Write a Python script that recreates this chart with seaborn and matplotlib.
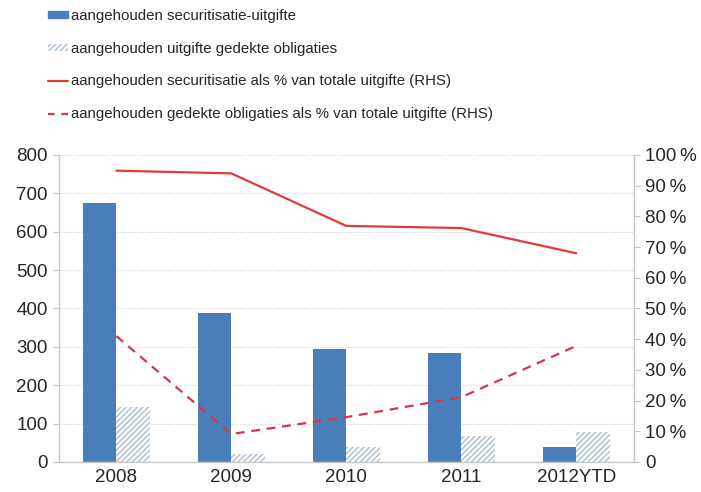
import matplotlib
matplotlib.use("Agg")
import matplotlib.pyplot as plt
import numpy as np
import pandas as pd
import seaborn as sns
from matplotlib.lines import Line2D
from matplotlib.patches import Patch
from matplotlib.ticker import FuncFormatter, MultipleLocator

# Data
years = ["2008", "2009", "2010", "2011", "2012YTD"]
securitisation = [674, 387, 294, 283, 39]
covered_bonds = [144, 21, 38, 68, 77]
sec_pct = [94.9, 94.0, 76.9, 76.2, 68.0]
cov_pct = [41.0, 9.1, 14.6, 21.1, 37.8]

labels = [
    "aangehouden securitisatie-uitgifte",
    "aangehouden uitgifte gedekte obligaties",
    "aangehouden securitisatie als % van totale uitgifte (RHS)",
    "aangehouden gedekte obligaties als % van totale uitgifte (RHS)",
]

BLUE = "#4a7ebb"
HATCH = "#a9bccf"
RED = "#e23a35"
RED_DASH = "#d8344f"
GRAY = "#c8c8c8"
TICK_SIZE = 13.5

sns.set_style("white")
plt.rcParams["font.family"] = ["Liberation Sans", "DejaVu Sans"]
plt.rcParams["hatch.linewidth"] = 1.0

df = pd.DataFrame({
    "year": years * 2,
    "value": securitisation + covered_bonds,
    "series": [labels[0]] * len(years) + [labels[1]] * len(years),
})

fig = plt.figure(figsize=(7.01, 4.92), dpi=100)
ax = fig.add_axes([0.084, 0.061, 0.82, 0.624])

sns.barplot(data=df, x="year", y="value", hue="series", order=years,
            hue_order=labels[:2], palette=[BLUE, "white"], width=0.58,
            gap=0, saturation=1, ax=ax, legend=False)

for i, bar in enumerate(ax.patches):
    bar.set_linewidth(0)
    if i >= len(years):
        bar.set_hatch("//////")
        bar.set_edgecolor(HATCH)

ax.set_xlim(-0.5, 4.5)
ax.set_ylim(0, 800)
ax.yaxis.set_major_locator(MultipleLocator(100))
ax.grid(axis="y", linestyle=(0, (1, 1.5)), color="#cfcfcf", linewidth=0.8)
ax.set_axisbelow(True)
ax.set_xlabel("")
ax.set_ylabel("")
ax.set_xticks(np.arange(len(years)))
ax.set_xticklabels(years)
ax.set_xticks(np.arange(len(years) + 1) - 0.5, minor=True)
ax.tick_params(axis="x", which="major", length=0, labelsize=TICK_SIZE, pad=5)
ax.tick_params(axis="x", which="minor", length=4, color=GRAY, direction="out")
ax.tick_params(axis="y", length=4, color=GRAY, labelsize=TICK_SIZE,
               direction="out", left=True, pad=4)
for side in ["left", "bottom", "right"]:
    ax.spines[side].set_color(GRAY)
    ax.spines[side].set_linewidth(1)
ax.spines["top"].set_visible(False)

ax2 = ax.twinx()
xpos = np.arange(len(years))
sns.lineplot(x=xpos, y=sec_pct, ax=ax2, color=RED, linewidth=1.6)
sns.lineplot(x=xpos, y=cov_pct, ax=ax2, color=RED_DASH, linewidth=1.6,
             linestyle=(0, (4, 3)))
ax2.set_ylim(0, 100)
ax2.yaxis.set_major_locator(MultipleLocator(10))
ax2.yaxis.set_major_formatter(
    FuncFormatter(lambda v, p: f"{int(v)}\u2009%" if v > 0 else "0"))
ax2.tick_params(axis="y", length=4, color=GRAY, labelsize=TICK_SIZE,
                direction="out", right=True, pad=4)
for side in ["left", "bottom", "right", "top"]:
    ax2.spines[side].set_visible(side == "right")
ax2.spines["right"].set_color(GRAY)
ax2.grid(False)
ax2.set_xlim(-0.5, 4.5)

handles = [
    Patch(facecolor=BLUE, edgecolor=BLUE),
    Patch(facecolor="white", edgecolor=HATCH, hatch="//////", linewidth=0),
    Line2D([], [], color=RED, linewidth=1.6),
    Line2D([], [], color=RED_DASH, linewidth=1.6, linestyle=(0, (3, 3))),
]
fig.legend(handles, labels, loc="upper left", bbox_to_anchor=(0.06, 0.994),
           frameon=False, fontsize=10.8, labelspacing=1.25, handlelength=1.3,
           handleheight=0.35, handletextpad=0.25, borderaxespad=0.0)

fig.savefig("out.png", dpi=100)
